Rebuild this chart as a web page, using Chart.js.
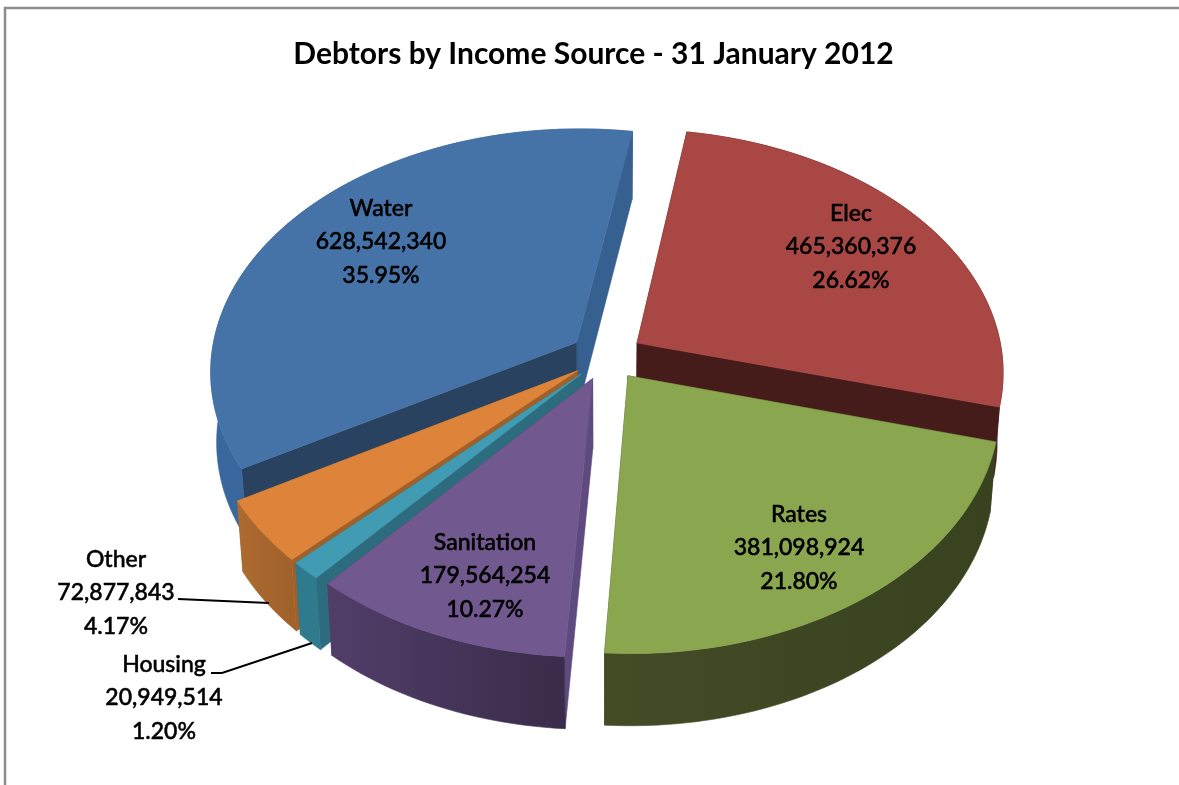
<!DOCTYPE html>
<html lang="en-GB">
<head>
  <title>Debtors by Income Source</title>
  <script type="text/javascript" src="https://cdn.jsdelivr.net/npm/chart.js"></script>
  <style>
    html, body { margin: 0; padding: 0; background: #fff; }
    #wrap { width: 1179px; height: 785px; }
  </style>
</head>
<body>
<div id="wrap"><canvas id="pie"></canvas></div>

<script>
  // Debtor balances per income source
  const sources = ['Water', 'Elec', 'Rates', 'Sanitation', 'Housing', 'Other'];
  const balances = [628542340, 465360376, 381098924, 179564254, 20949514, 72877843];
  const chartTitle = 'Debtors by Income Source - 31 January 2012';

  // Slice colours: top face, then the three kinds of wall
  const topColors = ['#4673a7', '#a94744', '#8aa64f', '#71588f', '#419bb2', '#dd843a'];
  const rimColors = [['#3a679d', '#36608f'], ['#451c1a', '#451c1a'], ['#444c26', '#38421f'],
                     ['#503e69', '#3a2c4a'], ['#2f7a8c', '#2f7a8c'], ['#ad6b30', '#a0612b']];
  const startWallColors = ['#28425f', '#451c1a', '#3c4522', '#5f4a80', '#2c6c7e', '#a0602a'];
  const endWallColors = ['#36608f', '#451c1a', '#444c26', '#503e69', '#2c6c7e', '#a0602a'];

  // Back to front, so nearer slices cover the walls of those behind
  const paintOrder = [0, 1, 2, 5, 4, 3];

  // Centre of each data label, in canvas pixels
  const labelSpots = [[381, 241], [851, 246], [799, 547], [485, 575], [164, 697], [116, 592]];

  // How the flat pie is laid onto the tilted view
  const view = { cx: 606.5, cy: 356, sx: 365.5, sy: 241, persp: 0.115, explode: 0.1, depth: 70, bottomX: 0.985 };

  const total = balances.reduce((a, b) => a + b, 0);

  // Flat pie coordinates (radius 1) to the top face on screen
  function project(u, v) {
    const w = 1 - view.persp * v;
    return { x: view.cx + view.sx * u / w, y: view.cy + view.sy * v / w, v: v };
  }

  // Same point on the underside of the pie
  function drop(p) {
    return { x: view.cx + (p.x - view.cx) * view.bottomX, y: p.y + view.depth + 2 * p.v };
  }

  function fillPoly(ctx, pts, fill) {
    ctx.beginPath();
    pts.forEach((p, i) => (i ? ctx.lineTo(p.x, p.y) : ctx.moveTo(p.x, p.y)));
    ctx.closePath();
    ctx.fillStyle = fill;
    ctx.fill();
    ctx.strokeStyle = fill;
    ctx.lineWidth = 0.6;
    ctx.stroke();
  }

  const tiltedPie = {
    id: 'tiltedPie',
    beforeDraw(chart) {
      // Chart frame, open on the right
      const ctx = chart.ctx;
      ctx.save();
      ctx.strokeStyle = '#8c8c8c';
      ctx.lineWidth = 2.5;
      ctx.beginPath();
      ctx.moveTo(5, 790);
      ctx.lineTo(5, 8);
      ctx.lineTo(1185, 8);
      ctx.stroke();
      ctx.restore();
    },
    // Replaces the flat arc drawing, angles still come from the arc elements
    beforeDatasetDraw(chart) {
      const ctx = chart.ctx;
      const arcs = chart.getDatasetMeta(0).data;
      ctx.save();
      paintOrder.forEach(i => {
        const arc = arcs[i];
        const mid = (arc.startAngle + arc.endAngle) / 2;
        const ou = view.explode * Math.cos(mid);
        const ov = view.explode * Math.sin(mid);
        const steps = Math.max(6, Math.round((arc.endAngle - arc.startAngle) * 40));
        const edge = [];
        for (let s = 0; s <= steps; s++) {
          const a = arc.startAngle + (arc.endAngle - arc.startAngle) * s / steps;
          edge.push(project(ou + Math.cos(a), ov + Math.sin(a)));
        }
        const tip = project(ou, ov);
        const first = edge[0];
        const last = edge[edge.length - 1];

        // Cut faces, the one reaching further forward goes on last
        const startFace = () => fillPoly(ctx, [tip, first, drop(first), drop(tip)], startWallColors[i]);
        const endFace = () => fillPoly(ctx, [tip, last, drop(last), drop(tip)], endWallColors[i]);
        if (first.y > last.y) {
          endFace();
          startFace();
        } else {
          startFace();
          endFace();
        }

        // Outer wall, shaded across the slice
        const xs = edge.map(p => p.x);
        const shade = ctx.createLinearGradient(Math.min(...xs), 0, Math.max(...xs), 0);
        shade.addColorStop(0, rimColors[i][0]);
        shade.addColorStop(1, rimColors[i][1]);
        fillPoly(ctx, edge.concat(edge.map(drop).reverse()), shade);

        // Top face
        fillPoly(ctx, [tip].concat(edge), arc.options.backgroundColor);
      });
      ctx.restore();
      return false;
    },
    afterDatasetsDraw(chart) {
      const ctx = chart.ctx;
      ctx.save();

      // Leader lines for the two small slices
      ctx.strokeStyle = '#000';
      ctx.lineWidth = 2;
      ctx.beginPath();
      ctx.moveTo(178, 599);
      ctx.lineTo(269, 603);
      ctx.moveTo(211, 673);
      ctx.lineTo(222, 673);
      ctx.lineTo(312, 643);
      ctx.stroke();

      // Name, balance and share for every slice
      ctx.fillStyle = '#000';
      ctx.strokeStyle = '#000';
      ctx.lineWidth = 0.5;
      ctx.font = '500 23px Lato';
      ctx.textAlign = 'center';
      ctx.textBaseline = 'middle';
      sources.forEach((name, i) => {
        const [x, y] = labelSpots[i];
        const lines = [name, balances[i].toLocaleString('en-US'), (balances[i] / total * 100).toFixed(2) + '%'];
        lines.forEach((line, n) => {
          ctx.fillText(line, x, y + 1 + (n - 1) * 33.3);
          ctx.strokeText(line, x, y + 1 + (n - 1) * 33.3);
        });
      });
      ctx.restore();
    }
  };

  new Chart(document.getElementById('pie'), {
    type: 'pie',
    data: {
      labels: sources,
      datasets: [{ data: balances, backgroundColor: topColors, borderWidth: 0 }],
    },
    options: {
      responsive: true,
      maintainAspectRatio: false,
      animation: false,
      rotation: 239.9,
      layout: { padding: { top: 36, left: 8 } },
      plugins: {
        legend: { display: false },
        tooltip: { enabled: false },
        title: {
          display: true,
          text: chartTitle,
          color: '#000',
          font: { family: 'Lato', size: 30, weight: 'bold' },
          padding: { top: 0, bottom: 10 },
        },
      },
    },
    plugins: [tiltedPie],
  });
</script>
</body>
</html>
